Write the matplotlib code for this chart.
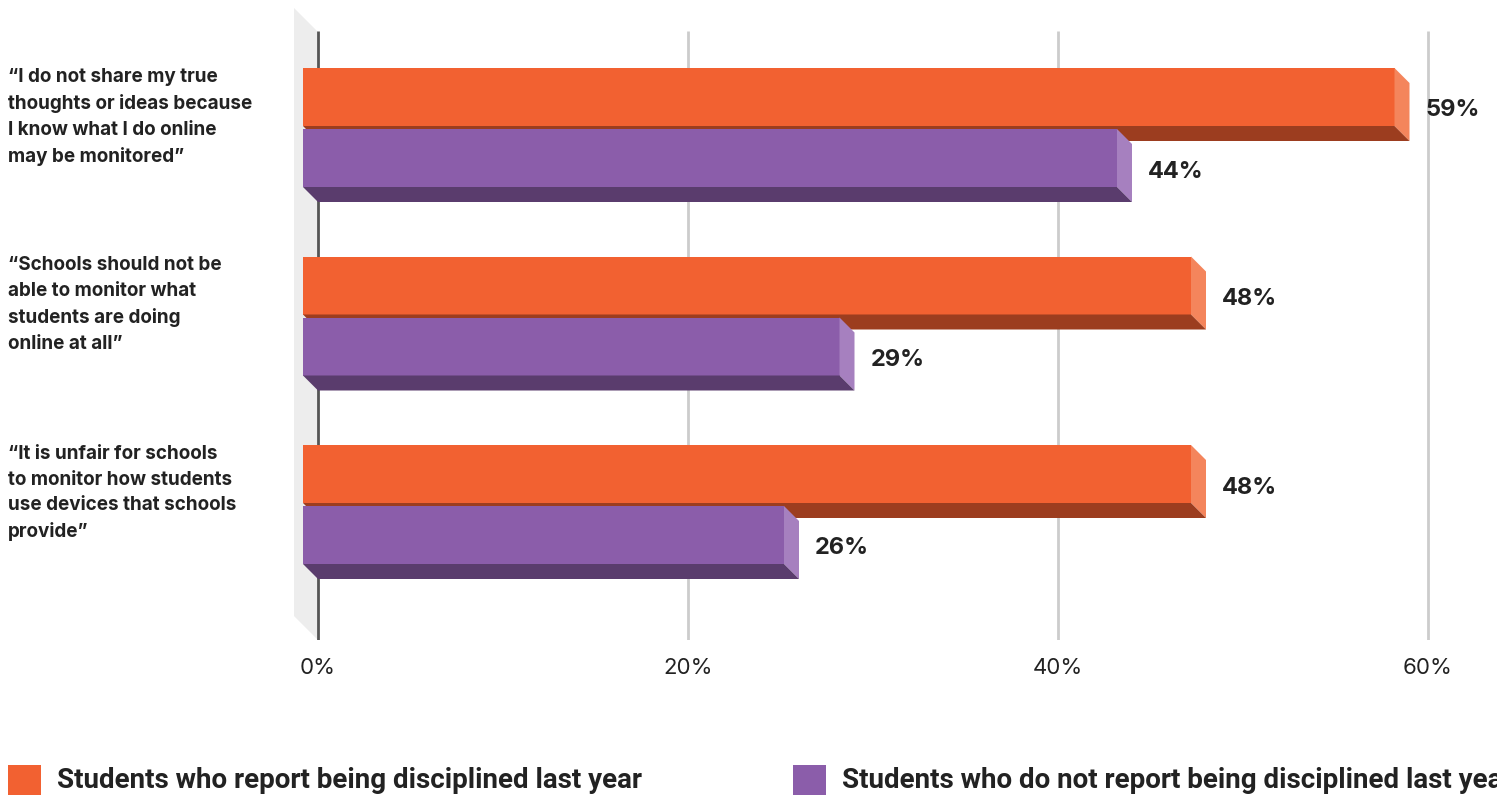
import numpy as np
import matplotlib
matplotlib.use("Agg")
import matplotlib.pyplot as plt
from matplotlib.patches import Polygon, Rectangle

categories = [
    "\u201cI do not share my true\nthoughts or ideas because\nI know what I do online\nmay be monitored\u201d",
    "\u201cSchools should not be\nable to monitor what\nstudents are doing\nonline at all\u201d",
    "\u201cIt is unfair for schools\nto monitor how students\nuse devices that schools\nprovide\u201d",
]
disciplined = [59, 48, 48]
not_disciplined = [44, 29, 26]
series_names = ["Students who report being disciplined last year",
                "Students who do not report being disciplined last year"]
tick_vals = [0, 20, 40, 60]

# front / side / bottom shades for each series
orange = ("#F26131", "#F4855C", "#9C3D1F")
purple = ("#8B5DAA", "#A680BF", "#5A3C6D")
text_col = "#222222"

W, H = 1497, 795
fig = plt.figure(figsize=(W / 100, H / 100), dpi=100)

# plot area in pixels: x=0% at 318px, 60% at 1428px; y in pixels (top down)
px_per_pct = (1428 - 318) / 60
ax_left, ax_bottom = 290, 640
ax = fig.add_axes([ax_left / W, (H - ax_bottom) / H, (W - ax_left) / W, ax_bottom / H])
ax.set_xlim((ax_left - 318) / px_per_pct, (W - 318) / px_per_pct)
ax.set_ylim(ax_bottom, 0)
for s in ax.spines.values():
    s.set_visible(False)
ax.set_yticks([])

dx = 15 / px_per_pct   # bar depth, horizontal (percent units)
dy = 15                # bar depth, vertical (pixels)
wall = 24 / px_per_pct

# grey side wall
ax.add_patch(Polygon([(-wall, 8), (0, 32), (0, 640), (-wall, 616)],
                     closed=True, fc="#EDEDED", ec="none", zorder=0))
ax.vlines(tick_vals[1:], 31, 640, color="#CCCCCC", lw=2, zorder=1)
ax.vlines(0, 31, 640, color="#555555", lw=2, zorder=1)


def bar3d(v, top, h, cols, z):
    front, side, bottom = cols
    ax.add_patch(Rectangle((-dx, top), v, h, fc=front, ec="none", zorder=z))
    ax.add_patch(Polygon([(v - dx, top), (v, top + dy), (v, top + h + dy), (v - dx, top + h)],
                         closed=True, fc=side, ec="none", zorder=z))
    ax.add_patch(Polygon([(-dx, top + h), (v - dx, top + h), (v, top + h + dy), (0, top + h + dy)],
                         closed=True, fc=bottom, ec="none", zorder=z))
    ax.text(v + 16 / px_per_pct, top + (h + dy) / 2 + 6, f"{v}%", ha="left", va="center",
            fontsize=17, fontweight="bold", family="Inter", color=text_col, zorder=z + 5)


h = 58
for i, (a, b) in enumerate(zip(disciplined, not_disciplined)):
    top = 68 + 188.5 * i
    bar3d(a, top, h, orange, 3 + 2 * i)
    bar3d(b, top + 61, h, purple, 4 + 2 * i)
    fig.text(8 / W, 1 - top / H, categories[i], ha="left", va="top",
             fontsize=13.6, fontweight="bold", family="Inter", color=text_col,
             linespacing=1.54)

ax.set_xticks(tick_vals)
ax.set_xticklabels([f"{t}%" for t in tick_vals], family="Inter", fontsize=16, color=text_col)
ax.tick_params(axis="x", length=0, pad=13)

# legend (second entry runs off the right edge, as in the original)
for x0, col, name in [(8, orange[0], series_names[0]), (793, purple[0], series_names[1])]:
    fig.patches.append(Rectangle((x0 / W, 0), 33 / W, 30 / H, transform=fig.transFigure,
                                 fc=col, ec="none"))
    fig.text((x0 + 49) / W, 1 - 780 / H, name, ha="left", va="center", fontsize=20,
             fontweight="bold", family="Roboto", color=text_col)

fig.savefig("out.png", dpi=100)
